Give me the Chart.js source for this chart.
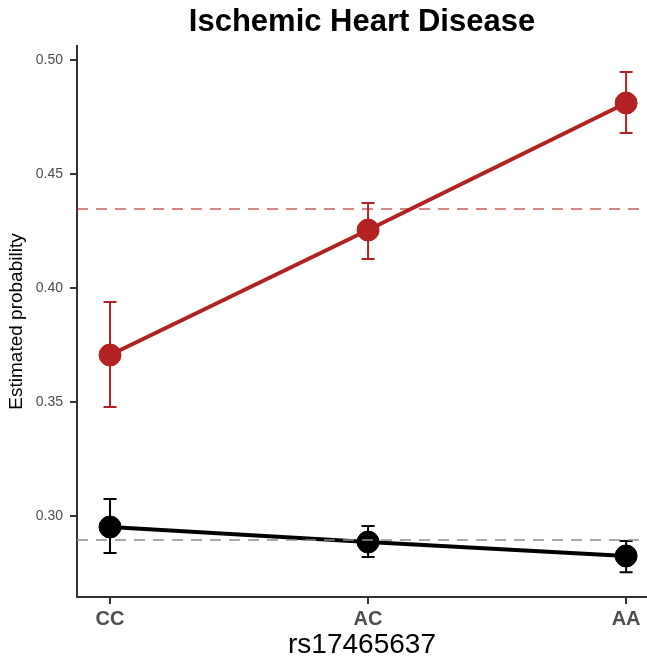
<!DOCTYPE html>
<html><head><meta charset="utf-8">
<script src="https://cdn.jsdelivr.net/npm/chart.js@4.4.1/dist/chart.umd.min.js"></script>
<style>html,body{margin:0;padding:0;background:#fff;overflow:hidden}#wrap{width:647px;height:662px;position:relative}</style>
</head><body><div id="wrap"><canvas id="c"></canvas></div>
<script>
const categories = ['CC', 'AC', 'AA'];
const yTicks = [0.30, 0.35, 0.40, 0.45, 0.50];
const caseMean  = [0.3706, 0.4254, 0.4811];
const caseLower = [0.3478, 0.4127, 0.4680];
const caseUpper = [0.3939, 0.4373, 0.4947];
const ctrlMean  = [0.2952, 0.2886, 0.2825];
const ctrlLower = [0.2838, 0.2820, 0.2754];
const ctrlUpper = [0.3075, 0.2956, 0.2890];
const refValues = [0.4346, 0.2895];
const refColors = ['rgba(178,34,34,0.55)', 'rgba(140,140,140,0.75)'];

const RED = '#B22222';
const FONT = "'Liberation Sans', Arial, Helvetica, sans-serif";

const toPts = arr => arr.map((v, i) => ({x: i, y: v}));

const errorBars = {
  id: 'errorBars',
  beforeDatasetsDraw(chart) {
    const {ctx, scales: {x, y}} = chart;
    chart.data.datasets.forEach(ds => {
      ctx.save();
      ctx.strokeStyle = ds.borderColor;
      ctx.lineWidth = 2;
      ds.lower.forEach((lo, i) => {
        const px = x.getPixelForValue(i);
        const y1 = y.getPixelForValue(lo);
        const y2 = y.getPixelForValue(ds.upper[i]);
        ctx.beginPath();
        ctx.moveTo(px, y1); ctx.lineTo(px, y2);
        ctx.moveTo(px - 6.5, y1); ctx.lineTo(px + 6.5, y1);
        ctx.moveTo(px - 6.5, y2); ctx.lineTo(px + 6.5, y2);
        ctx.stroke();
      });
      ctx.restore();
    });
  }
};

const refLines = {
  id: 'refLines',
  afterDatasetsDraw(chart) {
    const {ctx, chartArea, scales: {y}} = chart;
    ctx.save();
    ctx.beginPath();
    ctx.rect(chartArea.left, chartArea.top, chartArea.right - chartArea.left, chartArea.bottom - chartArea.top);
    ctx.clip();
    refValues.forEach((v, i) => {
      const py = y.getPixelForValue(v);
      ctx.strokeStyle = refColors[i];
      ctx.lineWidth = 2;
      ctx.setLineDash([11, 8]);
      ctx.beginPath();
      ctx.moveTo(chartArea.left, py);
      ctx.lineTo(chartArea.right, py);
      ctx.stroke();
    });
    ctx.restore();
  }
};

new Chart(document.getElementById('c'), {
  type: 'line',
  data: {
    datasets: [
      {data: toPts(caseMean), lower: caseLower, upper: caseUpper, borderColor: RED, backgroundColor: RED,
       borderWidth: 4, pointRadius: 11, pointBorderWidth: 1, pointBackgroundColor: RED, pointBorderColor: RED, tension: 0},
      {data: toPts(ctrlMean), lower: ctrlLower, upper: ctrlUpper, borderColor: '#000', backgroundColor: '#000',
       borderWidth: 4, pointRadius: 11, pointBorderWidth: 1, pointBackgroundColor: '#000', pointBorderColor: '#000', tension: 0}
    ]
  },
  options: {
    responsive: true,
    maintainAspectRatio: false,
    animation: false,
    devicePixelRatio: 1,
    layout: {padding: 0, autoPadding: false},
    plugins: {
      legend: {display: false},
      tooltip: {enabled: false},
      title: {
        display: true, text: 'Ischemic Heart Disease', fullSize: false,
        color: '#000', font: {family: FONT, size: 31, weight: 'bold', lineHeight: 1.2},
        padding: {top: 3.7, bottom: 5.1}
      }
    },
    scales: {
      x: {
        type: 'linear', min: -0.128, max: 2.081,
        afterBuildTicks: s => { s.ticks = categories.map((c, i) => ({value: i})); },
        afterFit: s => { s.height = 65; s.paddingLeft = 0; s.paddingRight = 0; },
        grid: {drawOnChartArea: false, drawTicks: true, tickLength: 7, color: '#333', lineWidth: 2},
        border: {display: true, color: '#333', width: 2},
        ticks: {callback: v => categories[v], color: '#4d4d4d', padding: 3,
                font: {family: FONT, size: 20, weight: 'bold'}, maxRotation: 0, autoSkip: false},
        title: {display: true, text: 'rs17465637', color: '#000',
                font: {family: FONT, size: 28, lineHeight: 1.2}, padding: {top: 0, bottom: 0}}
      },
      y: {
        type: 'linear', min: 0.2645, max: 0.5061,
        afterBuildTicks: s => { s.ticks = yTicks.map(v => ({value: v})); },
        afterFit: s => { s.width = 77; s.paddingTop = 0; s.paddingBottom = 0; },
        grid: {drawOnChartArea: false, drawTicks: true, tickLength: 7, color: '#333', lineWidth: 2},
        border: {display: true, color: '#333', width: 2},
        ticks: {callback: v => v.toFixed(2), color: '#4d4d4d', padding: 7,
                font: {family: FONT, size: 14}},
        title: {display: true, text: 'Estimated probability', color: '#000',
                font: {family: FONT, size: 19, lineHeight: 1.2}, padding: {top: 5, bottom: 0}}
      }
    }
  },
  plugins: [errorBars, refLines]
});
</script></body></html>
